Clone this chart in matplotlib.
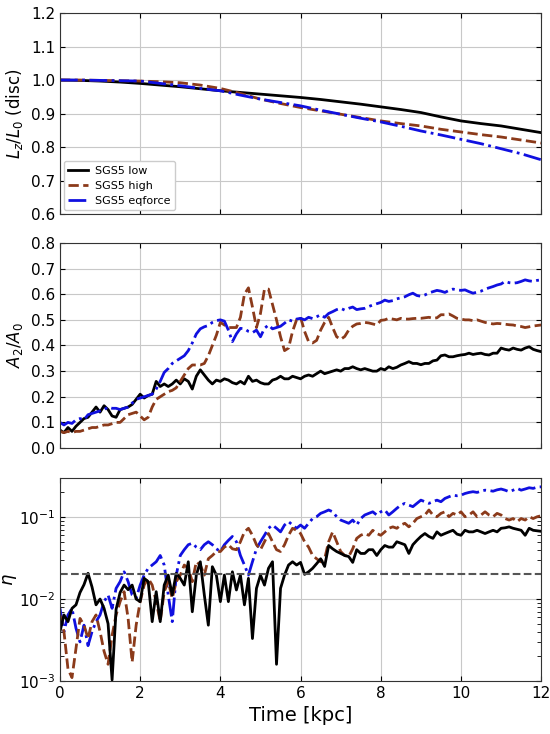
import numpy as np
import matplotlib.pyplot as plt

# time grid of the runs
t_lz = np.arange(0, 12.01, 0.5)
t = np.arange(0, 12.01, 0.1)

labels = ["SGS5 low", "SGS5 high", "SGS5 eqforce"]
colors = ["black", "#8b3a1a", "#1010e0"]
styles = ["-", "--", "-."]

# L_z / L_0 of the disc
lz_low = [1.0, 0.999, 0.997, 0.994, 0.99, 0.985, 0.98, 0.974, 0.968, 0.963, 0.958, 0.953, 0.948,
          0.942, 0.935, 0.928, 0.92, 0.912, 0.903, 0.89, 0.878, 0.87, 0.863, 0.853, 0.843]
lz_high = [1.0, 1.0, 0.999, 0.998, 0.997, 0.995, 0.992, 0.985, 0.975, 0.96, 0.943, 0.93, 0.918,
           0.908, 0.898, 0.888, 0.878, 0.87, 0.863, 0.853, 0.845, 0.837, 0.83, 0.821, 0.812]
lz_eq = [1.0, 1.0, 0.999, 0.998, 0.997, 0.99, 0.983, 0.975, 0.968, 0.955, 0.943, 0.933, 0.923,
         0.91, 0.898, 0.886, 0.875, 0.862, 0.848, 0.836, 0.823, 0.81, 0.795, 0.78, 0.762]

# bar strength A2/A0
a2_low = [0.07, 0.06, 0.08, 0.065, 0.085, 0.10, 0.115, 0.12, 0.14, 0.16,
          0.14, 0.165, 0.15, 0.125, 0.12, 0.15, 0.155, 0.16, 0.17, 0.19,
          0.21, 0.195, 0.205, 0.21, 0.26, 0.24, 0.25, 0.24, 0.25, 0.265,
          0.25, 0.27, 0.26, 0.23, 0.28, 0.305, 0.285, 0.265, 0.25, 0.265,
          0.26, 0.27, 0.265, 0.255, 0.25, 0.26, 0.25, 0.28, 0.26, 0.265,
          0.255, 0.25, 0.25, 0.265, 0.27, 0.28, 0.27, 0.27, 0.28, 0.275,
          0.27, 0.28, 0.285, 0.28, 0.29, 0.30, 0.29, 0.295, 0.30, 0.305,
          0.30, 0.31, 0.31, 0.317, 0.31, 0.305, 0.31, 0.305, 0.30, 0.30,
          0.31, 0.305, 0.317, 0.31, 0.315, 0.324, 0.33, 0.337, 0.33, 0.33,
          0.325, 0.33, 0.33, 0.34, 0.343, 0.36, 0.363, 0.356, 0.356, 0.36,
          0.363, 0.365, 0.37, 0.365, 0.368, 0.37, 0.365, 0.363, 0.37, 0.37,
          0.39, 0.385, 0.382, 0.39, 0.385, 0.382, 0.39, 0.395, 0.385, 0.38,
          0.376]
a2_high = [0.065, 0.06, 0.065, 0.06, 0.065, 0.065, 0.07, 0.075, 0.08, 0.08,
           0.085, 0.09, 0.09, 0.095, 0.10, 0.10, 0.115, 0.13, 0.135, 0.14,
           0.125, 0.11, 0.12, 0.16, 0.19, 0.20, 0.21, 0.22, 0.225, 0.235,
           0.26, 0.285, 0.31, 0.324, 0.324, 0.324, 0.33, 0.36, 0.40, 0.44,
           0.49, 0.48, 0.47, 0.47, 0.47, 0.51, 0.60, 0.625, 0.55, 0.47,
           0.525, 0.62, 0.62, 0.56, 0.50, 0.434, 0.38, 0.39, 0.455, 0.50,
           0.51, 0.455, 0.415, 0.41, 0.42, 0.46, 0.49, 0.51, 0.47, 0.434,
           0.424, 0.435, 0.46, 0.475, 0.484, 0.486, 0.49, 0.488, 0.484, 0.48,
           0.498, 0.50, 0.506, 0.503, 0.50, 0.506, 0.503, 0.503, 0.505, 0.506,
           0.506, 0.508, 0.51, 0.506, 0.508, 0.52, 0.52, 0.523, 0.515, 0.506,
           0.503, 0.50, 0.50, 0.497, 0.50, 0.495, 0.49, 0.487, 0.484, 0.486,
           0.485, 0.483, 0.481, 0.48, 0.476, 0.474, 0.47, 0.473, 0.476, 0.478,
           0.48]
a2_eq = [0.10, 0.09, 0.10, 0.096, 0.11, 0.115, 0.11, 0.13, 0.135, 0.14,
         0.145, 0.15, 0.16, 0.155, 0.155, 0.15, 0.155, 0.16, 0.175, 0.19,
         0.195, 0.20, 0.205, 0.21, 0.23, 0.26, 0.295, 0.31, 0.33, 0.34,
         0.35, 0.36, 0.38, 0.41, 0.445, 0.465, 0.473, 0.478, 0.49, 0.497,
         0.50, 0.495, 0.46, 0.415, 0.445, 0.467, 0.465, 0.455, 0.45, 0.46,
         0.434, 0.467, 0.48, 0.465, 0.47, 0.475, 0.487, 0.50, 0.495, 0.503,
         0.506, 0.50, 0.51, 0.505, 0.512, 0.52, 0.51, 0.525, 0.532, 0.54,
         0.545, 0.538, 0.545, 0.55, 0.54, 0.543, 0.545, 0.552, 0.558, 0.563,
         0.568, 0.577, 0.572, 0.575, 0.582, 0.586, 0.59, 0.598, 0.604, 0.595,
         0.592, 0.597, 0.605, 0.61, 0.615, 0.612, 0.607, 0.615, 0.62, 0.617,
         0.615, 0.617, 0.61, 0.604, 0.608, 0.612, 0.62, 0.625, 0.63, 0.636,
         0.64, 0.65, 0.645, 0.643, 0.645, 0.65, 0.656, 0.652, 0.65, 0.654,
         0.656]

# eta
eta_low = [0.004, 0.0064, 0.0053, 0.0077, 0.0085, 0.012, 0.015, 0.0206, 0.014, 0.0085,
           0.010, 0.0077, 0.005, 0.00103, 0.0075, 0.012, 0.0148, 0.013, 0.0148, 0.010,
           0.0093, 0.0179, 0.0163, 0.0053, 0.0123, 0.0053, 0.0148, 0.0196, 0.0112, 0.0206,
           0.0179, 0.0148, 0.0285, 0.0070, 0.0196, 0.0285, 0.0112, 0.0048, 0.0248, 0.0196,
           0.0093, 0.0196, 0.0093, 0.0215, 0.0129, 0.0196, 0.0085, 0.0179, 0.0033, 0.0135,
           0.0196, 0.0148, 0.0237, 0.0285, 0.0016, 0.0135, 0.0196, 0.026, 0.0285, 0.026,
           0.028, 0.020, 0.0215, 0.0237, 0.027, 0.031, 0.025, 0.045, 0.041, 0.038,
           0.036, 0.034, 0.033, 0.028, 0.040, 0.036, 0.036, 0.040, 0.040, 0.034,
           0.040, 0.045, 0.043, 0.043, 0.050, 0.048, 0.046, 0.036, 0.046, 0.052,
           0.058, 0.063, 0.058, 0.055, 0.066, 0.060, 0.063, 0.066, 0.069, 0.062,
           0.060, 0.069, 0.066, 0.066, 0.069, 0.066, 0.063, 0.066, 0.069, 0.066,
           0.073, 0.074, 0.076, 0.073, 0.071, 0.069, 0.060, 0.073, 0.069, 0.068,
           0.067]
eta_high = [0.0064, 0.0040, 0.0014, 0.0011, 0.0025, 0.0058, 0.0048, 0.0033, 0.0053, 0.0064,
            0.0040, 0.0023, 0.0016, 0.0036, 0.0064, 0.0093, 0.0123, 0.0058, 0.0017, 0.0048,
            0.0093, 0.0148, 0.0179, 0.0148, 0.0093, 0.0053, 0.0123, 0.0163, 0.0102, 0.0163,
            0.0196, 0.026, 0.0237, 0.0163, 0.0285, 0.026, 0.0196, 0.031, 0.034, 0.038,
            0.038, 0.043, 0.046, 0.041, 0.040, 0.050, 0.066, 0.073, 0.060, 0.046,
            0.040, 0.050, 0.063, 0.050, 0.040, 0.038, 0.046, 0.060, 0.073, 0.069,
            0.063, 0.050, 0.043, 0.034, 0.031, 0.0285, 0.031, 0.050, 0.066, 0.050,
            0.038, 0.034, 0.033, 0.041, 0.055, 0.060, 0.063, 0.060, 0.069, 0.063,
            0.060, 0.066, 0.073, 0.076, 0.073, 0.080, 0.084, 0.076, 0.084, 0.096,
            0.101, 0.106, 0.122, 0.106, 0.101, 0.111, 0.116, 0.101, 0.111, 0.106,
            0.116, 0.101, 0.106, 0.116, 0.101, 0.106, 0.116, 0.106, 0.101, 0.111,
            0.106, 0.096, 0.092, 0.096, 0.088, 0.096, 0.092, 0.101, 0.096, 0.101,
            0.104]
eta_eq = [0.0077, 0.0040, 0.0064, 0.0077, 0.0044, 0.0030, 0.0048, 0.0027, 0.0040, 0.0053,
          0.0064, 0.0093, 0.0112, 0.0077, 0.0135, 0.0163, 0.0215, 0.0163, 0.0112, 0.0102,
          0.0148, 0.0196, 0.0237, 0.026, 0.0285, 0.034, 0.026, 0.0112, 0.0053, 0.0196,
          0.034, 0.040, 0.046, 0.048, 0.043, 0.040, 0.046, 0.050, 0.046, 0.041,
          0.038, 0.046, 0.052, 0.058, 0.050, 0.034, 0.026, 0.0196, 0.0285, 0.041,
          0.050, 0.060, 0.073, 0.080, 0.073, 0.066, 0.080, 0.088, 0.080, 0.073,
          0.080, 0.073, 0.084, 0.096, 0.101, 0.111, 0.116, 0.122, 0.116, 0.101,
          0.092, 0.088, 0.084, 0.092, 0.080, 0.096, 0.106, 0.111, 0.116, 0.106,
          0.116, 0.122, 0.106, 0.116, 0.128, 0.140, 0.147, 0.140, 0.134, 0.147,
          0.161, 0.154, 0.147, 0.154, 0.161, 0.154, 0.169, 0.177, 0.185, 0.182,
          0.185, 0.194, 0.20, 0.204, 0.20, 0.207, 0.213, 0.211, 0.207, 0.215,
          0.22, 0.213, 0.204, 0.213, 0.224, 0.213, 0.22, 0.228, 0.224, 0.232,
          0.234]
eta_crit = 0.02


fig = plt.figure(figsize=(5.5, 7.34), dpi=100)
ax1 = fig.add_axes([0.109, 0.7084, 0.875, 0.2738])
ax2 = fig.add_axes([0.109, 0.3896, 0.875, 0.2794])
ax3 = fig.add_axes([0.109, 0.0722, 0.875, 0.2766])

for y, lab, c, ls in zip([lz_low, lz_high, lz_eq], labels, colors, styles):
    ax1.plot(t_lz, y, color=c, ls=ls, lw=2, label=lab)
for y, c, ls in zip([a2_low, a2_high, a2_eq], colors, styles):
    ax2.plot(t, y, color=c, ls=ls, lw=2)
# draw the eqforce first so low ends on top like the original
for y, c, ls in zip([eta_eq, eta_high, eta_low], colors[::-1], styles[::-1]):
    ax3.plot(t, y, color=c, ls=ls, lw=2)
ax3.axhline(eta_crit, color="#555555", ls="--", lw=1.5)

ax1.set_ylim(0.6, 1.2)
ax1.set_yticks(np.arange(0.6, 1.21, 0.1))
ax1.set_ylabel(r"$L_z/L_0$ (disc)", fontsize=12)
ax1.legend(loc="lower left", fontsize=8, handlelength=1.8, handletextpad=0.6,
           labelspacing=0.45, framealpha=1, borderaxespad=0.35)

ax2.set_ylim(0.0, 0.8)
ax2.set_yticks(np.arange(0.0, 0.81, 0.1))
ax2.set_ylabel(r"$A_2/A_0$", fontsize=12)

ax3.set_yscale("log")
ax3.set_ylim(1e-3, 0.3)
ax3.set_ylabel(r"$\eta$", fontsize=13)
ax3.set_xlabel("Time [kpc]", fontsize=14)

for ax in (ax1, ax2, ax3):
    ax.set_xlim(0, 12)
    ax.set_xticks(np.arange(0, 13, 2))
    ax.grid(True, color="#c8c8c8", lw=0.8)
    ax.tick_params(which="both", direction="in", top=True, right=True, labelsize=11)
    for s in ax.spines.values():
        s.set_color("#333333")
ax1.tick_params(labelbottom=False)
ax2.tick_params(labelbottom=False)
ax3.tick_params(which="minor", length=3)
ax3.yaxis.set_label_coords(-0.085, 0.5)

fig.savefig("out.png", dpi=100)
